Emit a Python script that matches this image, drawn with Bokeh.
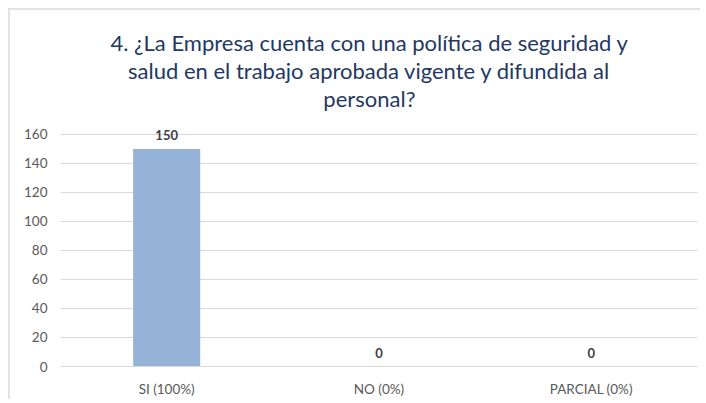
from bokeh.plotting import figure
from bokeh.models import Title, FixedTicker, ColumnDataSource
from bokeh.embed import file_html
from bokeh.resources import INLINE
from bokeh.core.properties import value

categories = ["SI (100%)", "NO (0%)", "PARCIAL (0%)"]
counts = [150, 0, 0]
y_ticks = [0, 20, 40, 60, 80, 100, 120, 140, 160]
title_lines = [
    "4. ¿La Empresa cuenta con una política de seguridad y",
    "salud en el trabajo aprobada vigente y difundida al",
    "personal?",
]

FONT = "Lato"
src = ColumnDataSource(dict(cat=categories, val=counts, lbl=[str(v) for v in counts]))

p = figure(frame_width=637, frame_height=241, x_range=categories, y_range=(0, 166.2),
           output_backend="svg", toolbar_location=None,
           min_border_left=50, min_border_right=3, min_border_top=115, min_border_bottom=27)
p.title.visible = False
p.add_layout(Title(text="\n".join(title_lines), align="left", text_align="center",
                   text_font=FONT, text_font_size="22px", text_font_style="normal",
                   text_color="#1F3864", text_line_height=1.04, standoff=27, offset=50), "above")

p.vbar(x="cat", top="val", width=0.316, source=src, fill_color="#95B3D7", line_color=None)
p.text(x="cat", y="val", text="lbl", source=src, text_align="center", text_baseline="bottom",
       y_offset=-9, text_font=value(FONT), text_font_size="13px", text_font_style="bold",
       text_color="#404040")

p.yaxis.ticker = FixedTicker(ticks=y_ticks)
p.yaxis.axis_line_color = None
p.yaxis.major_tick_line_color = None
p.yaxis.minor_tick_line_color = None
p.yaxis.major_tick_out = 0
p.yaxis.major_tick_in = 0
p.yaxis.minor_tick_out = 0
p.yaxis.major_label_standoff = 13
p.yaxis.major_label_text_font = FONT
p.yaxis.major_label_text_font_size = "13.5px"
p.yaxis.major_label_text_color = "#595959"

p.xaxis.axis_line_color = "#D9D9D9"
p.xaxis.major_tick_line_color = None
p.xaxis.minor_tick_line_color = None
p.xaxis.major_tick_out = 0
p.xaxis.major_tick_in = 0
p.xaxis.minor_tick_out = 0
p.xaxis.major_label_standoff = 14
p.xaxis.major_label_text_font = FONT
p.xaxis.major_label_text_font_size = "13.5px"
p.xaxis.major_label_text_color = "#595959"

p.xgrid.grid_line_color = None
p.ygrid.grid_line_color = "#D9D9D9"
p.outline_line_color = None
p.styles = {"margin-top": "8px", "margin-left": "8px",
            "border-top": "2px solid #E3E3E3", "border-left": "2px solid #E3E3E3"}

open("out.html", "w").write(file_html(p, INLINE))
